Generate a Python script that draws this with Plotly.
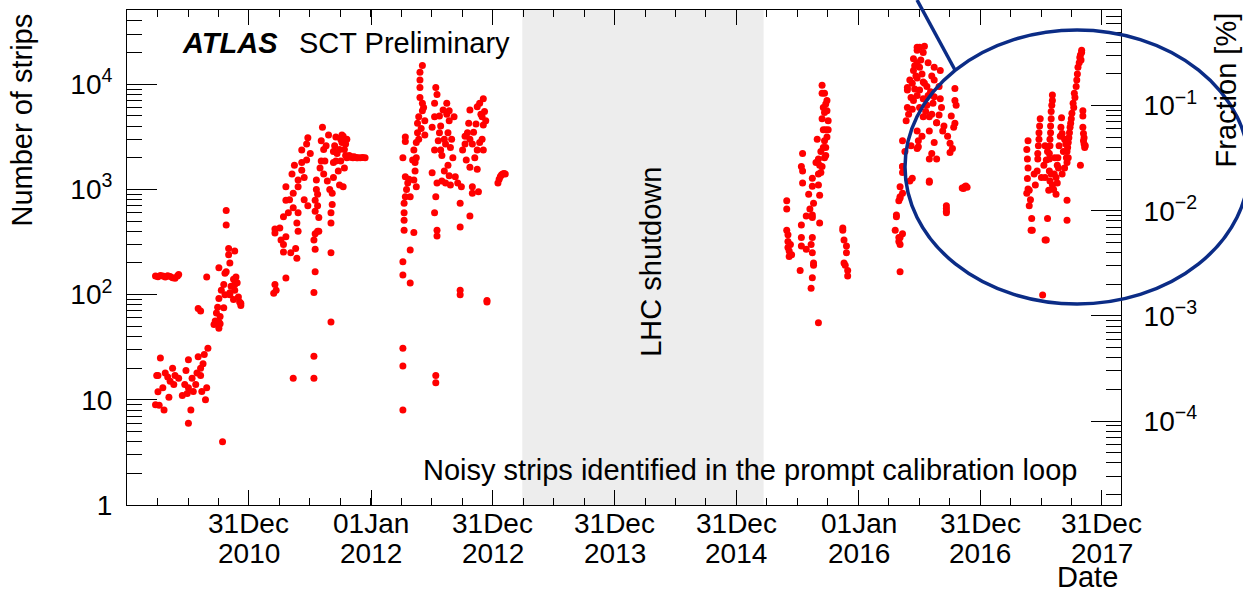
import numpy as np
import plotly.graph_objects as go

# ---------------- data (decimal year, number of noisy strips) ----------------
YR_A = [2010.23, 2010.25, 2010.27, 2010.29, 2010.31, 2010.33, 2010.35, 2010.37, 2010.39, 2010.41, 2010.42]
NS_A = [150, 148, 152, 150, 147, 151, 149, 145, 143, 150, 155]

YR_B = [2010.27, 2010.25, 2010.25, 2010.26, 2010.30, 2010.29, 2010.33, 2010.37, 2010.38, 2010.34, 2010.42,
        2010.23, 2010.24, 2010.31, 2010.35, 2010.39,
        2010.48, 2010.50, 2010.50, 2010.49, 2010.52, 2010.50, 2010.53, 2010.57, 2010.60, 2010.58, 2010.62,
        2010.61, 2010.64, 2010.66, 2010.78, 2010.54, 2010.56, 2010.47, 2010.60, 2010.65, 2010.63, 2010.45]
NS_B = [25, 17, 11.9, 8.9, 8, 13, 16.5, 20, 14, 10.6, 16,
        9, 17, 18, 15, 17,
        19, 24, 13, 11.5, 8, 6, 16, 18, 20, 25.7, 22,
        12, 10, 31, 4, 12, 14, 14, 17, 13, 27, 11]

YR_C0 = [2010.58, 2010.60, 2010.74, 2010.75, 2010.76, 2010.84, 2010.93, 2010.81, 2010.81, 2010.83, 2010.88,
         2010.75, 2010.81, 2010.65, 2010.89, 2010.88, 2010.79, 2010.77, 2010.75, 2010.73, 2010.75, 2010.93,
         2010.84, 2010.85, 2010.87, 2010.88, 2010.87, 2010.80, 2010.79, 2010.72, 2010.76, 2010.71, 2010.83,
         2010.84, 2010.80, 2010.90, 2010.91, 2010.92]
NS_C0 = [74, 70, 76, 48, 53, 104, 83, 630, 460, 275, 260,
         180, 165, 147, 147, 125, 125, 110, 92, 67, 55, 79,
         100, 120, 140, 110, 90, 100, 75, 56, 62, 52, 240,
         200, 160, 130, 95, 85]

YR_C = [2011.20, 2011.21, 2011.22, 2011.30, 2011.28, 2011.21, 2011.21, 2011.28, 2011.30, 2011.34, 2011.39,
        2011.38, 2011.39, 2011.40, 2011.28, 2011.30, 2011.30, 2011.36, 2011.40, 2011.36, 2011.40, 2011.43,
        2011.43, 2011.43, 2011.48, 2011.47, 2011.40, 2011.45, 2011.48, 2011.54, 2011.55, 2011.54, 2011.54,
        2011.56, 2011.57, 2011.53, 2011.54, 2011.57, 2011.56, 2011.56, 2011.55, 2011.58, 2011.59, 2011.59,
        2011.60, 2011.61, 2011.62, 2011.61, 2011.54, 2011.53, 2011.53, 2011.53, 2011.36, 2011.67, 2011.67,
        2011.67, 2011.67, 2011.68, 2011.68, 2011.69, 2011.69, 2011.69, 2011.71, 2011.73, 2011.74, 2011.75,
        2011.76, 2011.76, 2011.77, 2011.78, 2011.78, 2011.79, 2011.82, 2011.86, 2011.84, 2011.88, 2011.75,
        2011.71, 2011.80, 2011.83, 2011.85, 2011.87, 2011.89, 2011.91, 2011.93, 2011.95, 2011.33, 2011.35,
        2011.37, 2011.32, 2011.26, 2011.25, 2011.47, 2011.50, 2011.45, 2011.63, 2011.65, 2011.64, 2011.70,
        2011.72, 2011.66, 2011.74, 2011.80, 2011.79, 2011.77]
NS_C = [103, 125, 110, 144, 254, 385, 420, 300, 355, 250, 222,
        275, 480, 400, 550, 790, 1060, 670, 600, 920, 1230, 1520,
        1800, 2370, 3100, 2700, 1060, 800, 700, 790, 1000, 620, 380,
        400, 400, 330, 270, 540, 700, 900, 1230, 1600, 1860, 2900,
        3900, 2400, 1860, 1400, 165, 105, 26, 16, 16, 250, 55,
        480, 600, 720, 920, 1300, 1800, 2300, 3160, 1500, 1100, 1860,
        2800, 3300, 1060, 1600, 2400, 2100, 2100, 2050, 2050, 2000, 3000,
        1860, 2000, 2020, 2000, 2010, 2000, 2000, 2010, 2000, 800, 1400,
        1700, 600, 330, 430, 1900, 2200, 1300, 2600, 3300, 1200, 2600,
        2200, 1000, 2400, 3000, 2700, 3200]

YR_D = [2012.42, 2012.40, 2012.40, 2012.40, 2012.40, 2012.42, 2012.39, 2012.38, 2012.42, 2012.43, 2012.38,
        2012.35, 2012.34, 2012.28, 2012.28, 2012.26, 2012.28, 2012.28, 2012.27, 2012.27, 2012.27, 2012.27,
        2012.35, 2012.35, 2012.36, 2012.37, 2012.32, 2012.26, 2012.26, 2012.32, 2012.26, 2012.26, 2012.26,
        2012.32, 2012.29, 2012.30, 2012.31, 2012.37, 2012.39, 2012.41, 2012.44, 2012.37, 2012.36, 2012.44,
        2012.53, 2012.54, 2012.52, 2012.52, 2012.50, 2012.52, 2012.50, 2012.54, 2012.53, 2012.52, 2012.54,
        2012.54, 2012.53, 2012.53, 2012.56, 2012.59, 2012.62, 2012.64, 2012.63, 2012.61, 2012.58, 2012.60,
        2012.65, 2012.67, 2012.64, 2012.61, 2012.65, 2012.68, 2012.57, 2012.69, 2012.71, 2012.73, 2012.73,
        2012.73, 2012.73, 2012.74, 2012.57, 2012.60, 2012.66, 2012.55, 2012.62, 2012.64, 2012.58, 2012.63,
        2012.56,
        2012.81, 2012.80, 2012.79, 2012.81, 2012.87, 2012.89, 2012.92, 2012.91, 2012.92, 2012.91, 2012.87,
        2012.85, 2012.81, 2012.87, 2012.92, 2012.83, 2012.83, 2012.88, 2012.81, 2012.95, 2012.95, 2012.77,
        2012.75, 2012.77, 2012.84, 2012.86, 2012.90, 2012.83, 2012.89, 2012.78, 2012.94, 2012.93,
        2013.04, 2013.05, 2013.06, 2013.08, 2013.10, 2013.07, 2013.09]
NS_D = [15100, 13000, 11000, 9300, 7500, 6600, 4900, 4250, 5600, 6000, 3450,
        2370, 1900, 3150, 2850, 2000, 1320, 850, 740, 600, 510, 410,
        390, 1230, 1500, 1060, 265, 205, 154, 129, 31, 21, 8,
        850, 1000, 1150, 1250, 2800, 3000, 3800, 4500, 2000, 1800, 3300,
        9300, 8000, 6600, 4900, 3900, 2370, 1440, 1150, 850, 600, 410,
        360, 17, 14.5, 3450, 5700, 6600, 4500, 3450, 2700, 2100, 1500,
        2500, 2000, 1350, 1150, 1100, 4900, 2370, 1320, 1150, 740, 440,
        110, 100, 1060, 4000, 3000, 3000, 2900, 5200, 5600, 1200, 1700,
        5000,
        5700, 4250, 3450, 3000, 6100, 6600, 7300, 4900, 4100, 3000, 2370,
        2000, 1630, 1560, 2370, 1060, 920, 950, 560, 85, 88, 3200,
        2370, 2700, 3500, 4200, 5200, 2700, 2800, 1900, 4500, 5500,
        1150, 1250, 1330, 1400, 1400, 1380, 1420]

YR_E = [2015.70, 2015.70, 2015.72, 2015.74, 2015.70, 2015.72, 2015.74, 2015.75, 2015.71, 2015.73, 2015.75,
        2015.72, 2015.74, 2015.71, 2015.73, 2015.72, 2015.73, 2015.65, 2015.67, 2015.68, 2015.70, 2015.54,
        2015.53, 2015.54, 2015.54, 2015.67, 2015.69, 2015.62, 2015.62, 2015.67, 2015.68, 2015.63, 2015.41,
        2015.41, 2015.62, 2015.62, 2015.68, 2015.57, 2015.53, 2015.41, 2015.42, 2015.42, 2015.43, 2015.53,
        2015.53, 2015.57, 2015.62, 2015.62, 2015.63, 2015.52, 2015.62, 2015.61, 2015.67, 2015.87, 2015.88,
        2015.90, 2015.90, 2015.91, 2015.91, 2015.87, 2015.42, 2015.43, 2015.44, 2015.45, 2015.66, 2015.71,
        2015.73, 2015.69, 2015.60, 2015.59, 2015.61, 2015.63, 2015.88, 2015.89]
NS_E = [9800, 8200, 8200, 7000, 4700, 5400, 5600, 4500, 3700, 3700, 3700,
        2900, 3150, 2500, 2500, 2000, 2100, 1800, 1950, 1700, 1650, 2200,
        1650, 1500, 1150, 1400, 1450, 1280, 1070, 1100, 880, 740, 780,
        650, 570, 540, 480, 560, 460, 410, 370, 280, 230, 350,
        290, 270, 350, 250, 200, 170, 145, 115, 54, 410, 330,
        290, 250, 170, 150, 430, 320, 260, 300, 240, 3000, 6000,
        6500, 2300, 650, 900, 300, 190, 200, 190]

YR_F = [2016.48, 2016.54, 2016.53, 2016.48, 2016.50, 2016.45, 2016.40, 2016.44, 2016.48, 2016.50, 2016.54,
        2016.57, 2016.61, 2016.40, 2016.44, 2016.53, 2016.62, 2016.48, 2016.36, 2016.43, 2016.48, 2016.36,
        2016.36, 2016.34, 2016.36, 2016.34, 2016.31, 2016.30, 2016.34, 2016.36, 2016.34, 2016.34, 2016.44,
        2016.58, 2016.72, 2016.72, 2016.72,
        2016.48, 2016.50, 2016.46, 2016.42, 2016.48, 2016.53, 2016.62, 2016.67, 2016.40, 2016.45, 2016.53,
        2016.62, 2016.67, 2016.56, 2016.58, 2016.66, 2016.64, 2016.50, 2016.79, 2016.79, 2016.80, 2016.79,
        2016.78, 2016.75, 2016.77, 2016.75, 2016.64, 2016.58, 2016.69, 2016.60, 2016.58, 2016.64, 2016.49,
        2016.49, 2016.58, 2016.42, 2016.36, 2016.34, 2016.33, 2016.31, 2016.33, 2016.33, 2016.87, 2016.88,
        2016.86, 2016.89, 2016.85, 2016.72,
        2016.47, 2016.52, 2016.56, 2016.59, 2016.46, 2016.43, 2016.55, 2016.60, 2016.52, 2016.70, 2016.73,
        2016.76, 2016.62, 2016.38, 2016.39, 2016.41, 2016.51, 2016.45, 2016.57, 2016.60, 2016.66, 2016.68]
NS_F = [22500, 23000, 20000, 16000, 14500, 13500, 8800, 10200, 7800, 8800, 10200,
        7800, 6600, 6000, 5800, 4900, 14500, 3600, 2900, 2600, 2450, 1650,
        1450, 1060, 920, 830, 570, 410, 350, 380, 300, 165, 1280,
        1200, 660, 620, 700,
        21000, 22500, 15000, 11000, 11500, 10500, 11000, 13500, 9300, 7000, 7300,
        7600, 7300, 6300, 4900, 5100, 4300, 6000, 9100, 7000, 6300, 4250,
        3900, 2750, 2450, 2250, 4300, 3600, 3600, 2200, 1950, 1950, 2900,
        2550, 1170, 1200, 1650, 850, 780, 550, 350, 320, 1060, 1080,
        1020, 1050, 1030, 600,
        12000, 12500, 9500, 8500, 9000, 7500, 5500, 5200, 3200, 4000, 3200,
        5000, 2800, 2300, 4500, 5200, 17000, 17500, 16000, 12000, 9500, 6000]

YR_G = [2017.83, 2017.82, 2017.80, 2017.79, 2017.77, 2017.76, 2017.75, 2017.74, 2017.73, 2017.72, 2017.71,
        2017.71, 2017.825, 2017.81, 2017.795, 2017.785, 2017.775, 2017.765, 2017.745, 2017.735, 2017.725,
        2017.715, 2017.705, 2017.83, 2017.815,
        2017.59, 2017.585, 2017.58, 2017.575, 2017.57, 2017.565, 2017.565, 2017.59, 2017.58, 2017.575,
        2017.57, 2017.565,
        2017.49, 2017.48, 2017.475, 2017.47, 2017.465, 2017.485, 2017.48, 2017.47,
        2017.39, 2017.385, 2017.39, 2017.385, 2017.39, 2017.40, 2017.38,
        2017.63, 2017.635, 2017.645, 2017.655, 2017.66, 2017.665, 2017.72, 2017.84, 2017.84, 2017.845,
        2017.855, 2017.85, 2017.82, 2017.71, 2017.71, 2017.63, 2017.60, 2017.59, 2017.57, 2017.58,
        2017.56, 2017.38, 2017.42, 2017.415, 2017.425, 2017.55, 2017.54, 2017.53, 2017.51,
        2017.84, 2017.845, 2017.85, 2017.86, 2017.62, 2017.64, 2017.53, 2017.52, 2017.50, 2017.45,
        2017.44, 2017.41, 2017.40, 2017.62, 2017.67, 2017.69, 2017.68, 2017.605, 2017.61, 2017.55,
        2017.53, 2017.54, 2017.67, 2017.69, 2017.70]
NS_G = [21000, 19000, 14500, 11000, 8200, 6600, 5300, 4250, 3450, 2800, 2300,
        1800, 17000, 16000, 12500, 9500, 7500, 6000, 4700, 3900, 3100,
        2500, 2000, 20000, 18000,
        7900, 6300, 4700, 3450, 2600, 1950, 1500, 7000, 5500, 4000,
        3000, 2200,
        4700, 3450, 2600, 1950, 1500, 4000, 3000, 2200,
        2900, 1950, 1600, 1270, 1010, 980, 2400,
        1700, 2000, 2600, 3200, 3900, 4800, 2000, 5600, 3900, 2900,
        2500, 2700, 1700, 790, 510, 1150, 1000, 1100, 1200, 1400,
        980, 920, 530, 410, 410, 530, 330, 330, 99,
        5000, 3400, 3100, 2600, 1300, 1600, 1300, 1700, 1300, 1100,
        1400, 800, 700, 900, 1400, 1600, 2300, 1400, 2000, 2300,
        2600, 1900, 3400, 3000, 2700]

TOTAL_STRIPS = 6279168          # SCT readout strips
SHUTDOWN = [2013.24, 2015.22]   # LHC long shutdown 1

TICK_YEARS = [2010.997, 2012.0, 2012.997, 2013.997, 2014.997, 2016.0, 2016.997, 2017.997]
TICK_DAY = ["31Dec", "01Jan", "31Dec", "31Dec", "31Dec", "01Jan", "31Dec", "31Dec"]
TICK_YEAR = ["2010", "2012", "2012", "2013", "2014", "2016", "2016", "2017"]
X_RANGE = [2009.996, 2018.153]
Y_RANGE_LOG = [0.0, 4.706]

# ---------------- assemble ----------------
years = np.array(YR_A + YR_B + YR_C0 + YR_C + YR_D + YR_E + YR_F + YR_G)
counts = np.array(NS_A + NS_B + NS_C0 + NS_C + NS_D + NS_E + NS_F + NS_G, dtype=float)
fraction = counts / TOTAL_STRIPS * 100.0

FONT = "Liberation Sans, Arial, Helvetica, sans-serif"
FS = 29

fig = go.Figure()
fig.add_trace(go.Scatter(x=years, y=counts, mode="markers",
                         marker=dict(symbol="circle", size=7, color="#ff0000", line=dict(width=0)),
                         hoverinfo="skip", showlegend=False))
# invisible companion that carries the fraction axis
fig.add_trace(go.Scatter(x=years, y=fraction, mode="markers", yaxis="y2",
                         marker=dict(size=7, color="rgba(0,0,0,0)"),
                         hoverinfo="skip", showlegend=False))

off = 2 - np.log10(TOTAL_STRIPS)
y2_range = [Y_RANGE_LOG[0] + off, Y_RANGE_LOG[1] + off]

y_minor = [d * 10 ** k for k in range(0, 5) for d in range(2, 10)]
y2_minor = [d * 10.0 ** k for k in range(-5, 0) for d in range(2, 10)]

# two-line date labels of the time axis (day-month row and year row)
date_labels = []
for xv, day, yr in zip(TICK_YEARS, TICK_DAY, TICK_YEAR):
    date_labels.append(dict(text=day, xref="x", yref="paper", x=xv, y=-0.0364,
                            xanchor="center", yanchor="middle", showarrow=False,
                            font=dict(size=28)))
    date_labels.append(dict(text=yr, xref="x", yref="paper", x=xv, y=-0.097,
                            xanchor="center", yanchor="middle", showarrow=False,
                            font=dict(size=28)))

fig.update_layout(
    width=1243, height=592,
    margin=dict(l=127, r=122, t=10, b=87, pad=0),
    paper_bgcolor="white", plot_bgcolor="white",
    font=dict(family=FONT, size=FS, color="black"),
    xaxis=dict(range=X_RANGE, tickmode="array", tickvals=TICK_YEARS, showticklabels=False,
               ticks="inside", ticklen=15, tickwidth=1, tickcolor="black",
               minor=dict(tickmode="linear", tick0=2010.997, dtick=0.25, ticks="inside",
                          ticklen=7, tickcolor="black", showgrid=False),
               showline=True, linecolor="black", linewidth=1, mirror="ticks",
               showgrid=False, zeroline=False),
    yaxis=dict(type="log", range=Y_RANGE_LOG, tickmode="array",
               tickvals=[1, 10, 100, 1000, 10000],
               ticktext=["1", "10", "10<sup>2</sup>", "10<sup>3</sup>", "10<sup>4</sup>"],
               ticks="inside", ticklen=30, tickcolor="black",
               minor=dict(tickmode="array", tickvals=y_minor, ticks="inside", ticklen=15,
                          tickcolor="black", showgrid=False),
               showline=True, linecolor="black", linewidth=1, mirror=True,
               showgrid=False, zeroline=False, tickfont=dict(size=28),
               ticklabelstandoff=8),
    yaxis2=dict(type="log", range=y2_range, overlaying="y", side="right", tickmode="array",
                tickvals=[1e-4, 1e-3, 1e-2, 1e-1],
                ticktext=["10<sup>\u22124</sup>", "10<sup>\u22123</sup>", "10<sup>\u22122</sup>",
                          "10<sup>\u22121</sup>"],
                ticks="inside", ticklen=30, tickcolor="black",
                minor=dict(tickmode="array", tickvals=y2_minor, ticks="inside", ticklen=15,
                           tickcolor="black", showgrid=False),
                showline=True, linecolor="black", linewidth=1,
                showgrid=False, zeroline=False, tickfont=dict(size=28),
                ticklabelstandoff=16),
    shapes=[
        dict(type="rect", xref="x", yref="paper", x0=SHUTDOWN[0], x1=SHUTDOWN[1], y0=0, y1=1,
             fillcolor="#ededed", line=dict(width=0), layer="below"),
        dict(type="circle", xref="paper", yref="paper", x0=0.7827, x1=1.1288, y0=0.406, y1=0.9596,
             line=dict(color="#0b2c86", width=3.5), layer="above"),
        dict(type="line", xref="paper", yref="paper", x0=0.7948, y0=1.0202, x1=0.833, y1=0.8788,
             line=dict(color="#0b2c86", width=3.5), layer="above"),
    ],
    annotations=date_labels + [
        dict(text="<b><i>ATLAS</i></b>", xref="paper", yref="paper", x=0.0533, y=0.9333,
             xanchor="left", yanchor="middle", showarrow=False, font=dict(size=FS)),
        dict(text="SCT Preliminary", xref="paper", yref="paper", x=0.171, y=0.9333,
             xanchor="left", yanchor="middle", showarrow=False, font=dict(size=FS)),
        dict(text="LHC shutdown", xref="paper", yref="paper", x=0.527, y=0.491, textangle=-90,
             xanchor="center", yanchor="middle", showarrow=False, font=dict(size=FS)),
        dict(text="Noisy strips identified in the prompt calibration loop", xref="paper", yref="paper",
             x=0.6268, y=0.0707, xanchor="center", yanchor="middle", showarrow=False,
             font=dict(size=FS)),
        dict(text="Number of strips", xref="paper", yref="paper", x=-0.1056, y=0.996, textangle=-90,
             xanchor="center", yanchor="top", showarrow=False, font=dict(size=FS)),
        dict(text="Fraction [%]", xref="paper", yref="paper", x=1.1056, y=1.0, textangle=-90,
             xanchor="center", yanchor="top", showarrow=False, font=dict(size=FS)),
        dict(text="Date", xref="paper", yref="paper", x=0.999, y=-0.1455,
             xanchor="right", yanchor="middle", showarrow=False, font=dict(size=FS)),
    ],
)

fig.write_html("out.html")
